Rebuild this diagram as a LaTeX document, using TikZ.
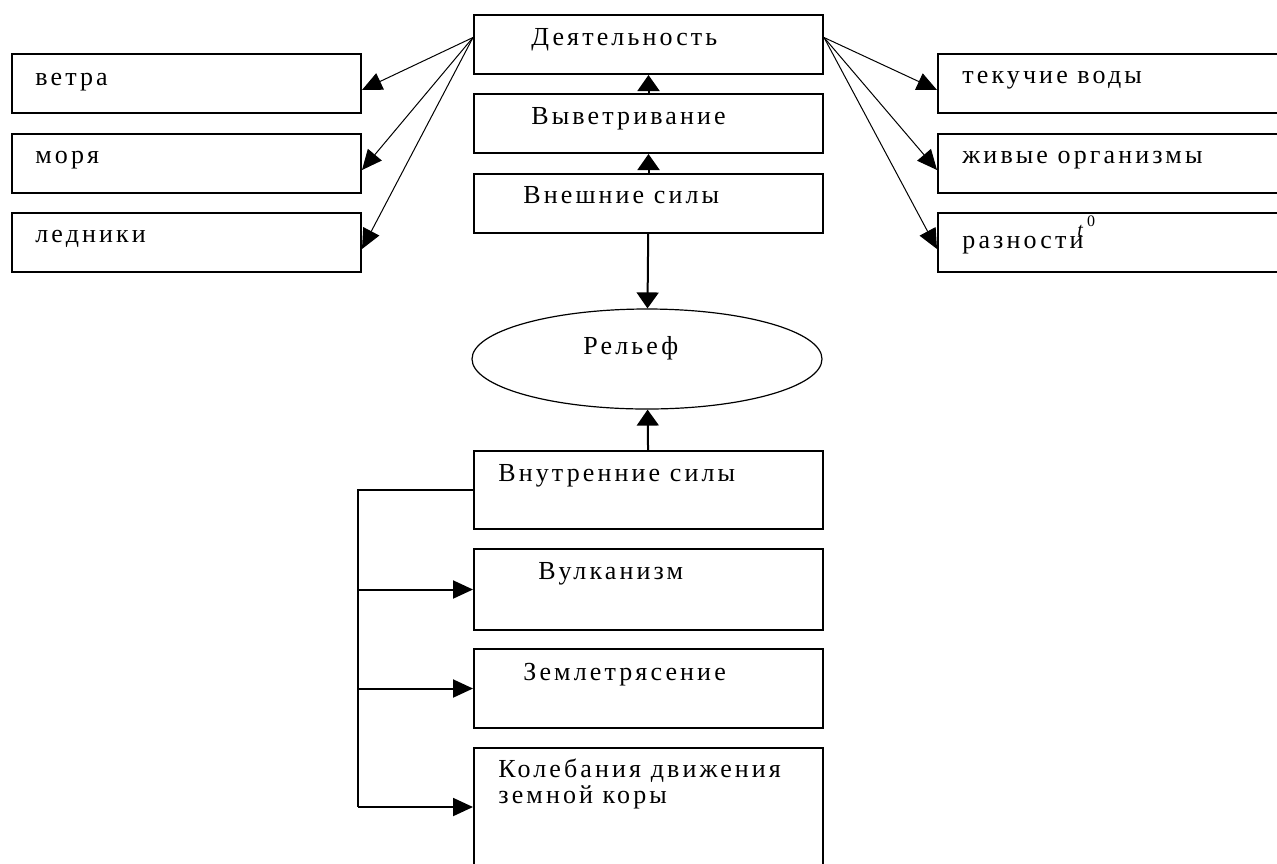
\documentclass[tikz,border=0pt]{standalone}
\usepackage{fontspec}
\setmainfont{Liberation Serif}[LetterSpace=12]
\usetikzlibrary{arrows.meta,shapes.geometric}

\tikzset{
  box/.style={draw,line width=1pt,anchor=north west,minimum width=174.5pt,minimum height=29.5pt,inner sep=0pt},
  txt/.style={anchor=base west,inner sep=0pt,align=left,font=\fontsize{13}{13}\selectfont},
  arr/.style={-{Triangle[length=10pt,width=9pt]}},
  uparr/.style={line width=1pt,-{Triangle[length=8pt,width=11pt]}}
}

\begin{document}
\begin{tikzpicture}[x=0.5pt,y=-0.5pt]
  \useasboundingbox (0,0) rectangle (1277,863);
  \clip (0,0) rectangle (1277,863);

  % outer forces
  \node[box] (dey) at (473,14) {};
  \node[box] (vyv) at (473,93) {};
  \node[box] (vnesh) at (473,173) {};
  \node[txt] (dey-t) at (531,45) {Деятельность};
  \node[txt] (vyv-t) at (531,124) {Выветривание};
  \node[txt] (vnesh-t) at (523,203) {Внешние силы};

  % left and right
  \node[box] (vetra) at (11,53) {};
  \node[box] (morya) at (11,133) {};
  \node[box] (led) at (11,212) {};
  \node[box] (tek) at (937,53) {};
  \node[box] (zhiv) at (937,133) {};
  \node[box] (razn) at (937,212) {};
  \node[txt] (vetra-t) at (35,85) {ветра};
  \node[txt] (morya-t) at (35,163) {моря};
  \node[txt] (led-t) at (35,242) {ледники};
  \node[txt] (tek-t) at (962,83) {текучие воды};
  \node[txt] (zhiv-t) at (962,163) {живые организмы};
  \node[txt] (razn-t) at (962,248) {разности\kern-3pt\raisebox{6pt}{\fontsize{10}{10}\itshape t}\kern2pt\raisebox{11pt}{\fontsize{8}{8}\selectfont 0}};

  % relief
  \node[draw,ellipse,line width=0.6pt,minimum width=175pt,minimum height=50pt] (relief) at (647,359) {};
  \node[txt] (relief-t) at (583,354) {Рельеф};

  % inner forces
  \node[box,minimum height=39pt] (vnutr) at (473,450) {};
  \node[box,minimum height=40.5pt] (vulk) at (473,548) {};
  \node[box,minimum height=39.5pt] (zemle) at (473,648) {};
  \node[box,minimum height=75pt] (koleb) at (473,747) {};
  \node[txt] (vnutr-t) at (498,481) {Внутренние силы};
  \node[txt] (vulk-t) at (538,579) {Вулканизм};
  \node[txt] (zemle-t) at (523,680) {Землетрясение};
  \node[txt] (koleb-t) at (498,803) {Колебания движения\\земной коры};

  \foreach \n in {vetra,morya,led}
    \draw[arr,line width=0.5pt] ([yshift=3.5pt]dey.west) -- ([yshift=-18.5pt]\n.north east);
  \foreach \n in {tek,zhiv,razn}
    \draw[arr,line width=0.5pt] ([yshift=3.5pt]dey.east) -- ([yshift=-18.5pt]\n.north west);

  \draw[uparr] (vyv) -- (dey);
  \draw[uparr] (vnesh) -- (vyv);
  \draw[uparr] (vnesh) -- (relief);
  \draw[uparr] (vnutr) -- (relief);

  \coordinate (bus) at (358,807);
  \draw[line width=1pt] (vnutr.west) -| (bus);
  \draw[arr,line width=1pt] (vulk.west -| bus) -- (vulk.west);
  \draw[arr,line width=1pt] (zemle.west -| bus) -- (zemle.west);
  \draw[arr,line width=1pt] (bus) -- (bus -| koleb.west);
\end{tikzpicture}
\end{document}
